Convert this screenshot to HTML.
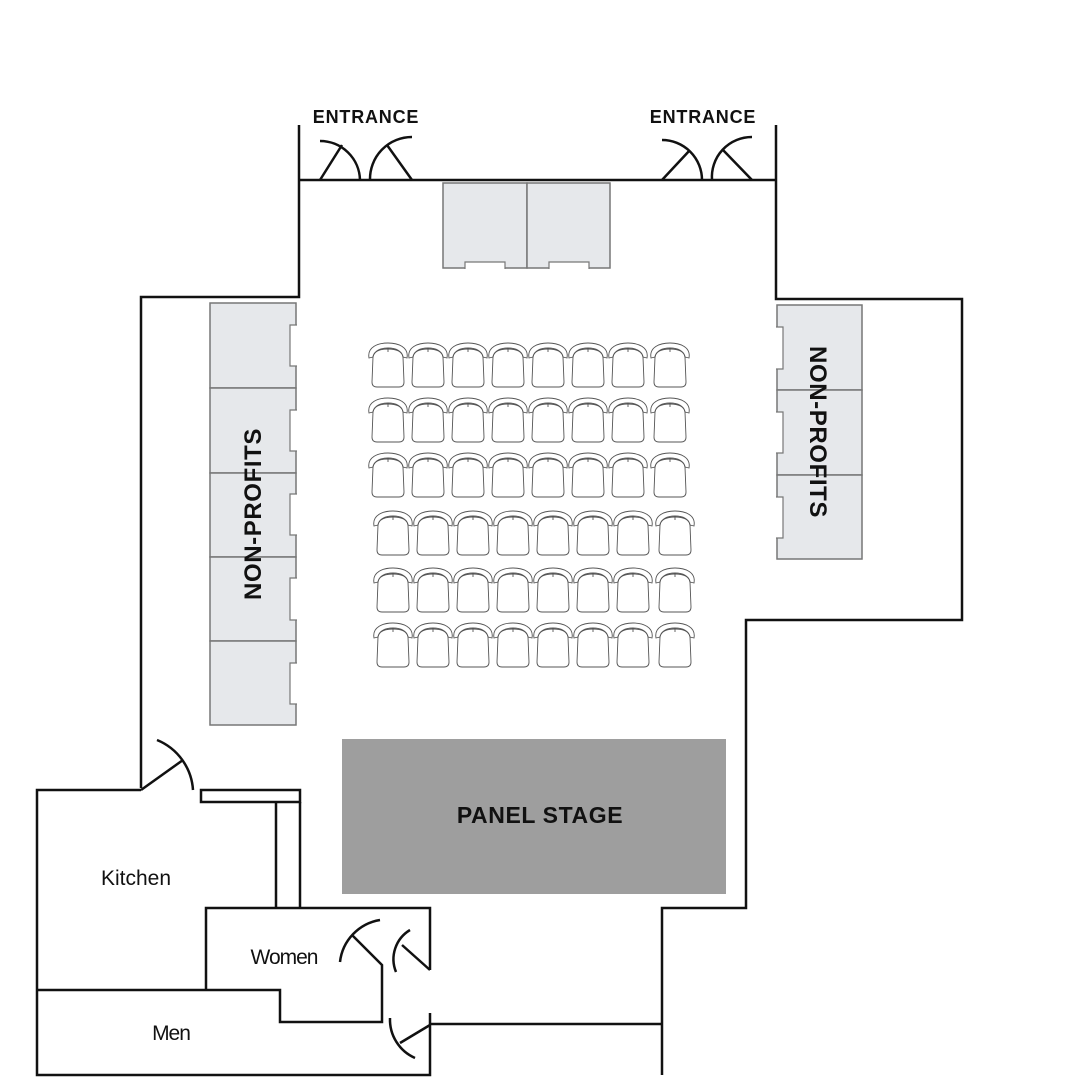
<!DOCTYPE html>
<html><head><meta charset="utf-8"><style>
html,body{margin:0;padding:0;background:#fff;}
svg{display:block;}
text{font-family:"Liberation Sans",sans-serif;}
</style></head><body>
<svg width="1080" height="1080" viewBox="0 0 1080 1080" xmlns="http://www.w3.org/2000/svg">
<defs>
<g id="chair" fill="none" stroke="#555" stroke-width="0.9">
<path d="M-19,13 C-21,2 -10,-2 0,-2 C10,-2 21,2 19,13 L15,12 C14,6 8,3 0,3 C-8,3 -14,6 -15,12 Z"/>
<path d="M-15,12 C-14,6 -8,4 0,4 C8,4 14,6 15,12"/>
<line x1="0" y1="3" x2="0" y2="7"/>
<path d="M-15,12 L-16,37 Q-16,42 -11,42 L11,42 Q16,42 16,37 L15,12"/>
</g>
<g id="chairs">
<use href="#chair" x="0"/><use href="#chair" x="40"/><use href="#chair" x="80"/><use href="#chair" x="120"/>
<use href="#chair" x="160"/><use href="#chair" x="200"/><use href="#chair" x="240"/><use href="#chair" x="282"/>
</g>
</defs>

<g fill="#e6e8eb" stroke="#777" stroke-width="1.5">
<rect x="443" y="183" width="84" height="85"/>
<rect x="527" y="183" width="83" height="85"/>
<rect x="210" y="303" width="86" height="85"/>
<rect x="210" y="388" width="86" height="85"/>
<rect x="210" y="473" width="86" height="84"/>
<rect x="210" y="557" width="86" height="84"/>
<rect x="210" y="641" width="86" height="84"/>
<rect x="777" y="305" width="85" height="85"/>
<rect x="777" y="390" width="85" height="85"/>
<rect x="777" y="475" width="85" height="84"/>
</g>
<g fill="#fff" stroke="#777" stroke-width="1.2">
<path d="M465,269 L465,262 L505,262 L505,269"/>
<path d="M549,269 L549,262 L589,262 L589,269"/>
<path d="M297,325 L290,325 L290,366 L297,366"/>
<path d="M297,410 L290,410 L290,451 L297,451"/>
<path d="M297,494 L290,494 L290,535 L297,535"/>
<path d="M297,578 L290,578 L290,620 L297,620"/>
<path d="M297,663 L290,663 L290,704 L297,704"/>
<path d="M776,327 L783,327 L783,369 L776,369"/>
<path d="M776,412 L783,412 L783,453 L776,453"/>
<path d="M776,497 L783,497 L783,538 L776,538"/>
</g>

<use href="#chairs" x="388" y="345"/>
<use href="#chairs" x="388" y="400"/>
<use href="#chairs" x="388" y="455"/>
<use href="#chairs" x="393" y="513"/>
<use href="#chairs" x="393" y="570"/>
<use href="#chairs" x="393" y="625"/>

<rect x="342" y="739" width="384" height="155" fill="#9e9e9e"/>
<text x="540" y="823" text-anchor="middle" font-size="23" font-weight="bold" fill="#111" letter-spacing="0.6">PANEL STAGE</text>

<g fill="none" stroke="#111" stroke-width="2.5">
<path d="M299,125 L299,297 L141,297 L141,788"/>
<path d="M299,180 L776,180"/>
<path d="M776,125 L776,299 L962,299 L962,620 L746,620 L746,908 L662,908 L662,1075"/>
<path d="M430,1024 L662,1024"/>
<path d="M141,790 L37,790 L37,1075 L430,1075 L430,1013"/>
<rect x="201" y="790" width="99" height="12"/>
<path d="M276,802 L276,908 M300,802 L300,908"/>
<path d="M206,990 L206,908 L430,908 L430,970"/>
<path d="M37,990 L280,990 L280,1022 L382,1022 L382,965 L352,935"/>
<path d="M141,790 L183,760"/>
<path d="M157,740 A58,58 0 0 1 193,790"/>
<path d="M430,970 L402,945"/>
<path d="M396,972 A34,34 0 0 1 410,930"/>
<path d="M340,962 A48,48 0 0 1 380,920"/>
<path d="M430,1025 L400,1043"/>
<path d="M390,1018 A42,42 0 0 0 415,1058"/>
<path d="M320,180 L342,145 M320,141 A40,40 0 0 1 360,180"/>
<path d="M412,180 L387,145 M412,137 A42,42 0 0 0 370,180"/>
<path d="M662,180 L690,150 M662,140 A40,40 0 0 1 702,180"/>
<path d="M752,180 L723,150 M752,137 A40,40 0 0 0 712,180"/>
</g>

<text x="366" y="123" text-anchor="middle" font-size="18" font-weight="bold" fill="#111" letter-spacing="0.8">ENTRANCE</text>
<text x="703" y="123" text-anchor="middle" font-size="18" font-weight="bold" fill="#111" letter-spacing="0.8">ENTRANCE</text>
<text transform="translate(261,514) rotate(-90)" text-anchor="middle" font-size="24" font-weight="bold" fill="#111" letter-spacing="0.6">NON-PROFITS</text>
<text transform="translate(810,432) rotate(90)" text-anchor="middle" font-size="24" font-weight="bold" fill="#111" letter-spacing="0.6">NON-PROFITS</text>

<text x="136" y="885" text-anchor="middle" font-size="21" fill="#111">Kitchen</text>
<text x="284" y="964" text-anchor="middle" font-size="21" fill="#111" letter-spacing="-1">Women</text>
<text x="171" y="1040" text-anchor="middle" font-size="21" fill="#111" letter-spacing="-1">Men</text>
</svg>
</body></html>
